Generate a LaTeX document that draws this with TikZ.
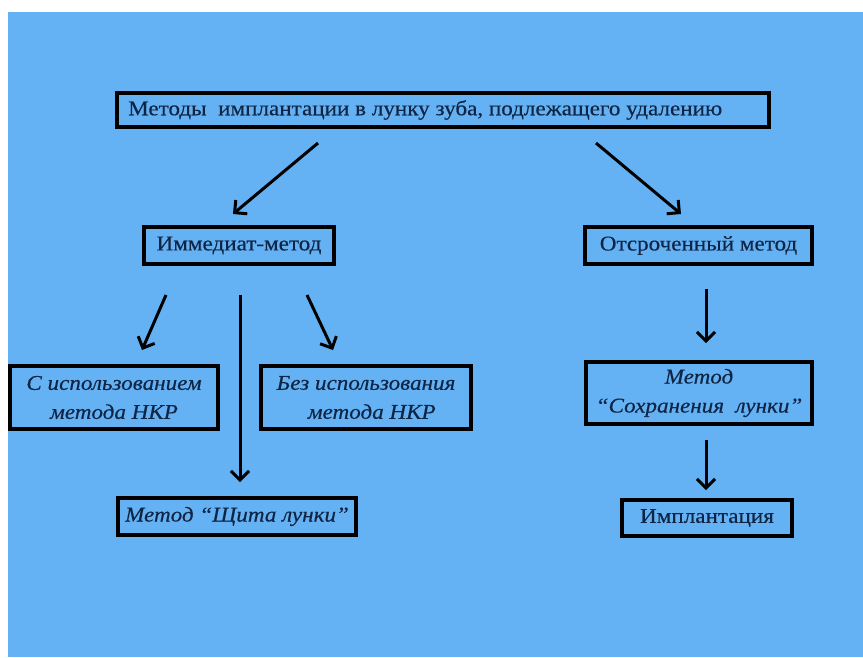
\documentclass[tikz,border=0pt]{standalone}
\usepackage{fontspec}
\setmainfont{Liberation Serif}[FakeStretch=1.1,FakeBold=0.4]
\usetikzlibrary{arrows.meta}
\definecolor{bgblue}{HTML}{64B2F4}
\definecolor{ink}{HTML}{0F2545}
\begin{document}
\begin{tikzpicture}[x=1pt,y=-1pt,
  box/.style={draw=black,line width=3.2pt,inner sep=0pt,text=ink,font=\fontsize{21}{24}\selectfont},
  ibox/.style={box,font=\fontsize{21}{29}\selectfont\itshape},
  arr/.style={line width=3pt,-{Straight Barb[length=9pt,width=18pt,line width=3pt]}}]
\useasboundingbox (0,0) rectangle (863,657);
\fill[white] (0,0) rectangle (863,657);
\fill[bgblue] (8,12) rectangle (863,657);
% boxes
\node[box,minimum width=652pt,minimum height=34pt] (top) at (443,110) {};
\node[text=ink,font=\fontsize{21}{24}\selectfont,anchor=west,inner sep=0pt] (toptext) at (128,110) {Методы\ \ имплантации в лунку зуба, подлежащего удалению};
\node[box,minimum width=190pt,minimum height=37pt] (imm) at (239,245.5) {Иммедиат-метод};
\node[box,minimum width=227pt,minimum height=37pt] (otl) at (698.5,245.5) {Отсроченный метод};
\node[ibox,minimum width=208pt,minimum height=63pt,align=center] (s) at (114,397.5) {С использованием\\метода НКР};
\node[ibox,minimum width=210pt,minimum height=63pt,align=center] (bez) at (366,397.5) {Без использования\\\ \ метода НКР};
\node[ibox,minimum width=238pt,minimum height=37pt] (shit) at (237,516.5) {Метод “Щита лунки”};
\node[ibox,minimum width=226pt,minimum height=62pt,align=center] (sohr) at (699,393) {Метод\\“Сохранения\ \ лунки”};
\node[box,minimum width=170pt,minimum height=36pt] (impl) at (707,518) {Имплантация};
% arrow ends
\coordinate (a1s) at (318,143); \coordinate (a1e) at (233,214);
\coordinate (a2s) at (596,143); \coordinate (a2e) at (681,214);
\coordinate (a3s) at (166,295); \coordinate (a3e) at (142,350);
\coordinate (a4s) at (240,295); \coordinate (a4e) at (240,482);
\coordinate (a5s) at (307,295); \coordinate (a5e) at (333,350);
\coordinate (a6s) at (706,289); \coordinate (a6e) at (706,343);
\coordinate (a7s) at (706,440); \coordinate (a7e) at (706,490);
\draw[arr] (a1s) -- (a1e);
\draw[arr] (a2s) -- (a2e);
\draw[arr] (a3s) -- (a3e);
\draw[arr] (a4s) -- (a4e);
\draw[arr] (a5s) -- (a5e);
\draw[arr] (a6s) -- (a6e);
\draw[arr] (a7s) -- (a7e);
\end{tikzpicture}
\end{document}
